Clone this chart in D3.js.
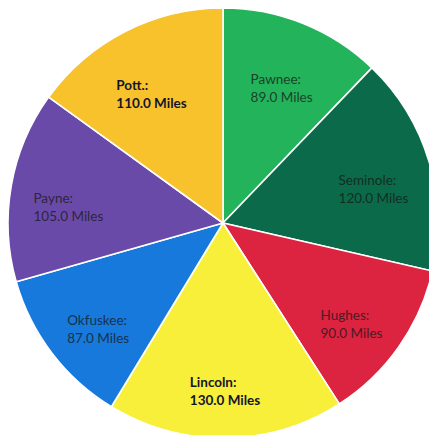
<!DOCTYPE html>
<html>
<head>
<meta charset="utf-8">
<script src="https://cdn.jsdelivr.net/npm/d3@7"></script>
<style>
  html, body { margin: 0; padding: 0; background: #ffffff; }
  svg { display: block; }
</style>
</head>
<body>
<svg id="chart" width="429" height="435"></svg>
<script>
// Distances per county, clockwise from 12 o'clock
const counties = ["Pawnee", "Seminole", "Hughes", "Lincoln", "Okfuskee", "Payne", "Pott."];
const miles    = [89, 120, 90, 130, 87, 105, 110];
const colors   = ["#23b35a", "#0b6a49", "#dc2340", "#f7ef3a", "#1879dc", "#6a4aa8", "#f7c22c"];
const unit     = "Miles";

const cx = 223, cy = 223, radius = 215;

const data = counties.map((name, i) => ({ name, value: miles[i], color: colors[i] }));

const svg = d3.select("#chart");
const g = svg.append("g").attr("transform", `translate(${cx},${cy})`);

const pie = d3.pie().sort(null).value(d => d.value);
const arcs = pie(data);

const arc = d3.arc().innerRadius(0).outerRadius(radius);
const labelArc = d3.arc().innerRadius(157).outerRadius(157);

g.selectAll("path.slice")
  .data(arcs)
  .join("path")
  .attr("class", "slice")
  .attr("d", arc)
  .attr("fill", d => d.data.color)
  .attr("stroke", "#ffffff")
  .attr("stroke-width", 1.6)
  .attr("stroke-linejoin", "round");

// Labels: dark text, heavier on the light slices
function isLight(c) {
  const { r, g: gg, b } = d3.rgb(c);
  return (0.299 * r + 0.587 * gg + 0.114 * b) > 180;
}

const labels = g.selectAll("g.label")
  .data(arcs)
  .join("g")
  .attr("class", "label")
  .attr("transform", d => {
    const [x, y] = labelArc.centroid(d);
    return `translate(${x},${y})`;
  });

// Two left-aligned lines, the block centred on the label point
labels.each(function (d) {
  const light = isLight(d.data.color);
  const txtColor = light ? "#15152a" : d3.interpolateRgb(d.data.color, "#161616")(0.72);
  const t = d3.select(this).append("text")
    .attr("text-anchor", "start")
    .attr("font-family", "Lato, 'Open Sans', sans-serif")
    .attr("font-size", 13.5)
    .attr("font-weight", light ? 700 : 400)
    .attr("fill", txtColor);
  const l1 = t.append("tspan").attr("y", 7).text(d.data.name + ":");
  const l2 = t.append("tspan").attr("y", 25).text(d3.format(".1f")(d.data.value) + " " + unit);
  const w = Math.max(l1.node().getComputedTextLength(), l2.node().getComputedTextLength());
  l1.attr("x", -w / 2);
  l2.attr("x", -w / 2);
});
</script>
</body>
</html>
